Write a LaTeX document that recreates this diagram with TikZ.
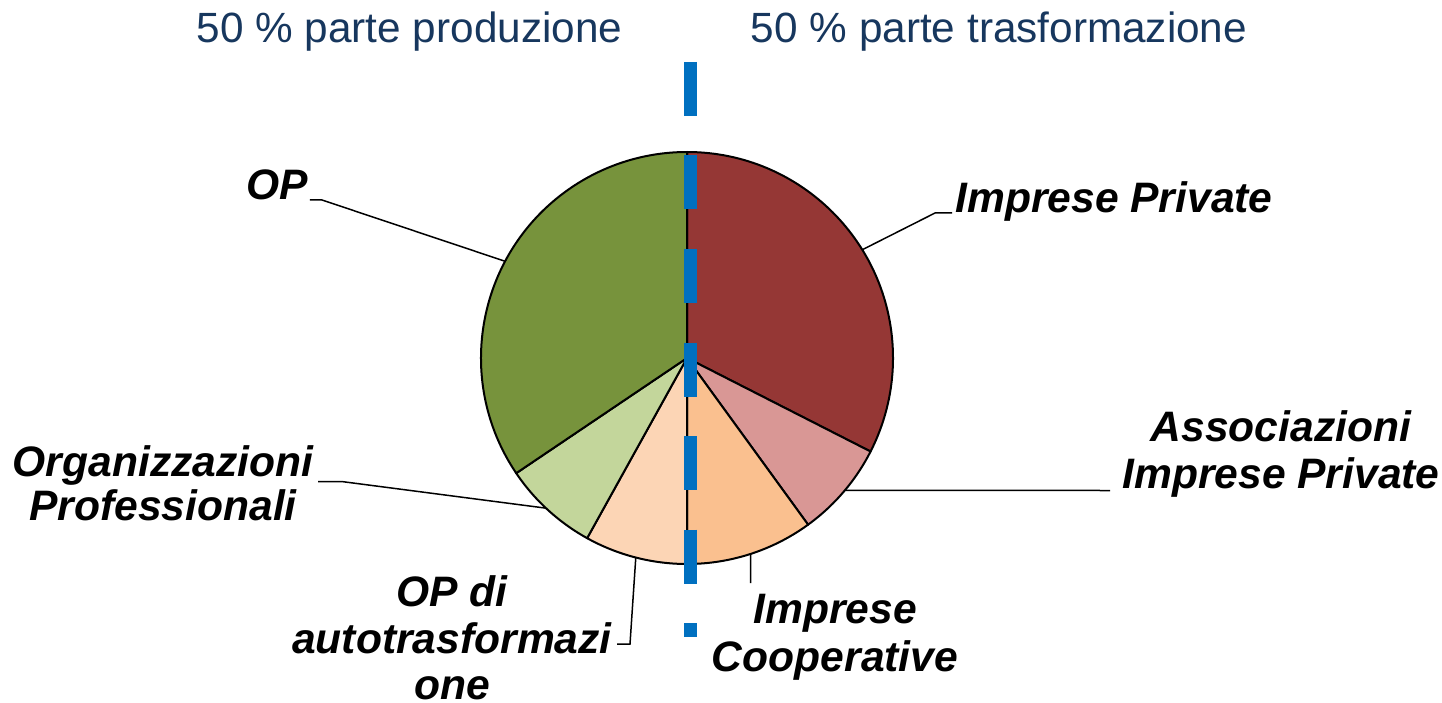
\documentclass[tikz,border=0pt]{standalone}
\usepackage{fontspec}
\setmainfont{Liberation Sans}
\usetikzlibrary{calc}
\definecolor{cIP}{HTML}{953735}
\definecolor{cAS}{HTML}{D99795}
\definecolor{cCO}{HTML}{FAC08F}
\definecolor{cAU}{HTML}{FCD5B5}
\definecolor{cOR}{HTML}{C3D69B}
\definecolor{cOP}{HTML}{77933C}
\definecolor{cBlue}{HTML}{0070C0}
\definecolor{cTitle}{HTML}{17375E}
\begin{document}
\begin{tikzpicture}[x=1pt,y=-1pt,
  slice/.style={draw=black,line width=2pt,line join=round},
  leader/.style={draw=black,line width=1.5pt},
  title/.style={inner sep=0pt,text=cTitle,font=\fontsize{42.3}{48}\selectfont},
  lbl/.style={inner sep=0pt,align=center,font=\fontsize{42.6}{46.5}\selectfont\bfseries\itshape},
  divider/.style={draw=cBlue,line width=13pt,dash pattern=on 54pt off 39.5pt}]
\fill[white] (0,0) rectangle (1442,703);
\useasboundingbox (0,0) rectangle (1442,703);
\coordinate (c) at (687,358);
% pie slices (screen angles, clockwise from east)
\filldraw[slice,fill=cIP] (c) -- ([shift={(-90:206)}]c) arc[start angle=-90,end angle=27,radius=206] -- cycle;
\filldraw[slice,fill=cAS] (c) -- ([shift={(27:206)}]c) arc[start angle=27,end angle=54,radius=206] -- cycle;
\filldraw[slice,fill=cCO] (c) -- ([shift={(54:206)}]c) arc[start angle=54,end angle=90,radius=206] -- cycle;
\filldraw[slice,fill=cAU] (c) -- ([shift={(90:206)}]c) arc[start angle=90,end angle=119,radius=206] -- cycle;
\filldraw[slice,fill=cOR] (c) -- ([shift={(119:206)}]c) arc[start angle=119,end angle=146,radius=206] -- cycle;
\filldraw[slice,fill=cOP] (c) -- ([shift={(146:206)}]c) arc[start angle=146,end angle=270,radius=206] -- cycle;
% titles
\node[title,anchor=base] (t1) at (409.5,43) {50 \% parte produzione};
\node[title,anchor=base] (t2) at (999,43) {50 \% parte trasformazione};
% labels (anchor base = baseline of the last line)
\node[lbl,anchor=base] (opL) at (277,200) {OP};
\node[lbl,anchor=base] (ipL) at (1114,213) {Imprese Private};
\node[lbl,anchor=base] (asL) at (1281,488.2) {Associazioni\\Imprese Private};
\node[lbl,anchor=base,font=\fontsize{42.6}{43.5}\selectfont\bfseries\itshape] (orL) at (163,520) {Organizzazioni\\Professionali};
\node[lbl,anchor=base,font=\fontsize{42.6}{46.5}\selectfont\bfseries\itshape] (auL) at (452,699.5) {OP di\\autotrasformazi\\one};
\node[lbl,anchor=base,font=\fontsize{42.6}{48.5}\selectfont\bfseries\itshape] (coL) at (835,671.7) {Imprese\\Cooperative};
% leader points
\coordinate (opP) at ([shift={(208:206)}]c);
\coordinate (opK) at (322,200);
\coordinate (ipP) at ([shift={(-31.7:206)}]c);
\coordinate (ipK) at (935,213);
\coordinate (asP) at ([shift={(40:206)}]c);
\coordinate (asK) at (1110,490.5);
\coordinate (coP) at ([shift={(72:206)}]c);
\coordinate (coK) at (750.7,583);
\coordinate (auP) at ([shift={(104.4:206)}]c);
\coordinate (auK) at (630,644);
\coordinate (auE) at (617,644);
\coordinate (orP) at ([shift={(133.2:206)}]c);
\coordinate (orK) at (343,481.7);
\coordinate (orE) at (318,481.7);
\draw[leader] ([xshift=2pt]opL.base east) -- (opK) -- (opP);
\draw[leader] ([xshift=-3pt]ipL.base west) -- (ipK) -- (ipP);
\draw[leader] (asP) -- (asK);
\draw[leader] (coP) -- (coK);
\draw[leader] (auP) -- (auK) -- (auE);
\draw[leader] (orP) -- (orK) -- (orE);
% divider
\coordinate (dTop) at (690.5,62);
\coordinate (dBot) at (690.5,637);
\draw[divider] (dTop) -- (dBot);
\end{tikzpicture}
\end{document}
